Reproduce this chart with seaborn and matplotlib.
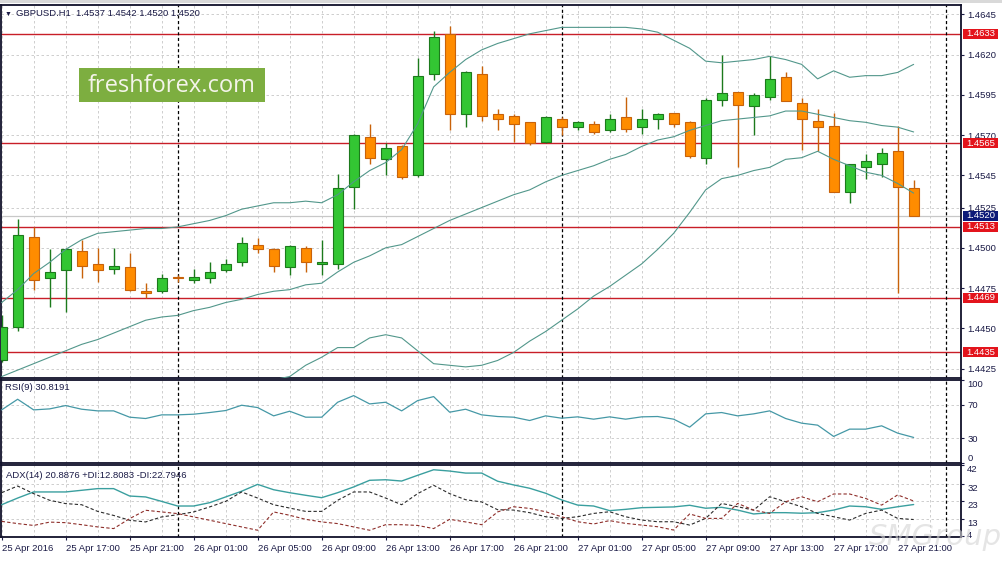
import numpy as np
import pandas as pd
import matplotlib
matplotlib.use("Agg")
import matplotlib.pyplot as plt
import matplotlib.transforms as mtransforms
from matplotlib.patches import Rectangle
import seaborn as sns

sns.set_theme(style="white")
plt.rcParams["font.family"] = ["Liberation Sans", "DejaVu Sans"]

# ---------------- data ----------------
time_labels = ["25 Apr 2016", "25 Apr 17:00", "25 Apr 21:00", "26 Apr 01:00",
               "26 Apr 05:00", "26 Apr 09:00", "26 Apr 13:00", "26 Apr 17:00",
               "26 Apr 21:00", "27 Apr 01:00", "27 Apr 05:00", "27 Apr 09:00",
               "27 Apr 13:00", "27 Apr 17:00", "27 Apr 21:00"]

opens = [1.4430, 1.4451, 1.4507, 1.4481, 1.4486, 1.4498, 1.4490, 1.4487, 1.4488, 1.4473,
         1.4473, 1.4482, 1.4480, 1.4481, 1.4486, 1.4491, 1.4502, 1.4499, 1.4488, 1.4500,
         1.4490, 1.4490, 1.4538, 1.4569, 1.4555, 1.4563, 1.4545, 1.4608, 1.4633, 1.4583,
         1.4608, 1.4583, 1.4582, 1.4578, 1.4566, 1.4580, 1.4575, 1.4577, 1.4573, 1.4581,
         1.4575, 1.4580, 1.4584, 1.4578, 1.4556, 1.4592, 1.4597, 1.4588, 1.4594, 1.4606,
         1.4590, 1.4579, 1.4576, 1.4535, 1.4550, 1.4552, 1.4560, 1.4537]
highs = [1.4458, 1.4518, 1.4513, 1.4499, 1.4500, 1.4505, 1.4500, 1.4500, 1.4497, 1.4478,
         1.4484, 1.4483, 1.4487, 1.4491, 1.4493, 1.4507, 1.4506, 1.4500, 1.4502, 1.4501,
         1.4505, 1.4546, 1.4571, 1.4577, 1.4565, 1.4564, 1.4618, 1.4635, 1.4638, 1.4610,
         1.4613, 1.4586, 1.4583, 1.4578, 1.4582, 1.4581, 1.4579, 1.4579, 1.4583, 1.4594,
         1.4586, 1.4584, 1.4584, 1.4579, 1.4593, 1.4620, 1.4597, 1.4596, 1.4619, 1.4609,
         1.4593, 1.4586, 1.4584, 1.4552, 1.4558, 1.4562, 1.4576, 1.4542]
lows = [1.4429, 1.4448, 1.4474, 1.4463, 1.4460, 1.4481, 1.4479, 1.4484, 1.4473, 1.4469,
        1.4472, 1.4479, 1.4478, 1.4478, 1.4485, 1.4489, 1.4497, 1.4485, 1.4483, 1.4485,
        1.4483, 1.4487, 1.4524, 1.4552, 1.4545, 1.4543, 1.4544, 1.4604, 1.4573, 1.4575,
        1.4579, 1.4573, 1.4566, 1.4564, 1.4565, 1.4570, 1.4573, 1.4571, 1.4572, 1.4572,
        1.4571, 1.4574, 1.4575, 1.4556, 1.4552, 1.4588, 1.4550, 1.4570, 1.4592, 1.4591,
        1.4561, 1.4560, 1.4535, 1.4528, 1.4543, 1.4544, 1.4472, 1.4520]
closes = [1.4451, 1.4508, 1.4480, 1.4485, 1.4499, 1.4489, 1.4486, 1.4489, 1.4474, 1.4472,
          1.4481, 1.4481, 1.4482, 1.4485, 1.4490, 1.4503, 1.4499, 1.4489, 1.4501, 1.4491,
          1.4491, 1.4537, 1.4570, 1.4556, 1.4562, 1.4544, 1.4607, 1.4631, 1.4583, 1.4609,
          1.4582, 1.4580, 1.4577, 1.4565, 1.4581, 1.4575, 1.4578, 1.4572, 1.4580, 1.4574,
          1.4580, 1.4583, 1.4577, 1.4557, 1.4592, 1.4596, 1.4589, 1.4595, 1.4605, 1.4591,
          1.4580, 1.4575, 1.4535, 1.4552, 1.4554, 1.4559, 1.4538, 1.4520]

bb_upper = [1.4466, 1.4474, 1.4484, 1.4491, 1.4499, 1.4505, 1.4509, 1.4510, 1.4511, 1.4512,
            1.4512, 1.4513, 1.4515, 1.4517, 1.4520, 1.4524, 1.4526, 1.4528, 1.4528, 1.4529,
            1.4528, 1.4533, 1.4541, 1.4548, 1.4553, 1.4561, 1.4577, 1.4600, 1.4609, 1.4617,
            1.4623, 1.4627, 1.4630, 1.4633, 1.4635, 1.4637, 1.4637, 1.4637, 1.4637, 1.4637,
            1.4636, 1.4634, 1.4629, 1.4624, 1.4616, 1.4615, 1.4616, 1.4617, 1.4619, 1.4617,
            1.4614, 1.4605, 1.4610, 1.4606, 1.4607, 1.4607, 1.4609, 1.4614]
bb_middle = [1.4420, 1.4424, 1.4428, 1.4432, 1.4436, 1.4440, 1.4443, 1.4447, 1.4451, 1.4455,
             1.4457, 1.4458, 1.4461, 1.4463, 1.4466, 1.4468, 1.4471, 1.4473, 1.4474, 1.4477,
             1.4478, 1.4485, 1.4491, 1.4495, 1.4500, 1.4502, 1.4507, 1.4512, 1.4517, 1.4521,
             1.4525, 1.4529, 1.4533, 1.4536, 1.4541, 1.4545, 1.4548, 1.4551, 1.4555, 1.4558,
             1.4563, 1.4567, 1.4569, 1.4573, 1.4576, 1.4579, 1.4580, 1.4581, 1.4582, 1.4585,
             1.4585, 1.4583, 1.4581, 1.4579, 1.4578, 1.4576, 1.4575, 1.4572]
bb_lower = [1.4373, 1.4374, 1.4371, 1.4373, 1.4373, 1.4374, 1.4378, 1.4384, 1.4390, 1.4397,
            1.4402, 1.4404, 1.4406, 1.4409, 1.4411, 1.4413, 1.4415, 1.4418, 1.4420, 1.4427,
            1.4432, 1.4438, 1.4438, 1.4444, 1.4446, 1.4444, 1.4436, 1.4428, 1.4427, 1.4426,
            1.4427, 1.4430, 1.4435, 1.4442, 1.4448, 1.4455, 1.4462, 1.4470, 1.4476, 1.4483,
            1.4490, 1.4499, 1.4509, 1.4522, 1.4536, 1.4543, 1.4545, 1.4548, 1.4550, 1.4555,
            1.4556, 1.4560, 1.4555, 1.4551, 1.4547, 1.4545, 1.4540, 1.4534]

levels = [1.4633, 1.4565, 1.4513, 1.4469, 1.4435]
bid_price = 1.4520
price_ticks = [1.4645, 1.4620, 1.4595, 1.4570, 1.4545, 1.4525, 1.4500, 1.4475, 1.4450, 1.4425]

rsi = [64.0, 76.8, 64.0, 65.2, 69.2, 64.8, 62.8, 62.8, 55.2, 53.6,
       58.0, 58.0, 58.8, 60.8, 63.2, 69.6, 66.8, 56.8, 62.4, 55.2,
       55.2, 73.2, 81.2, 71.2, 73.2, 62.8, 75.2, 80.0, 61.2, 64.8,
       58.0, 56.0, 55.2, 51.2, 56.8, 54.0, 55.6, 52.8, 55.6, 52.8,
       55.6, 56.0, 52.8, 43.2, 59.2, 60.8, 56.8, 59.2, 62.8, 53.6,
       48.0, 45.6, 32.0, 40.8, 40.8, 44.8, 36.0, 30.8]
rsi_ticks = [0, 30, 70, 100]

adx = [20.8, 24.4, 27.7, 27.7, 27.7, 28.6, 29.5, 29.5, 25.5, 25.0,
       22.6, 20.1, 20.1, 21.9, 25.0, 28.1, 31.8, 28.9, 27.3, 25.9,
       24.6, 27.3, 30.4, 34.0, 34.3, 33.6, 36.7, 39.7, 39.0, 37.9,
       37.9, 33.5, 31.5, 29.7, 27.0, 23.4, 20.6, 20.1, 17.6, 18.3,
       19.2, 19.4, 19.6, 20.5, 18.9, 19.4, 17.9, 15.8, 16.5, 16.5,
       16.2, 16.5, 17.9, 20.1, 19.7, 18.3, 19.7, 20.9]
plus_di = [27.3, 30.9, 26.8, 23.2, 21.4, 20.8, 17.2, 15.0, 12.4, 11.5,
           14.2, 15.4, 16.9, 19.6, 22.6, 27.7, 24.4, 20.8, 19.0, 17.2,
           17.2, 23.2, 27.7, 27.7, 24.4, 20.8, 26.8, 31.3, 26.8, 23.5,
           22.3, 18.1, 17.9, 16.5, 14.3, 13.4, 14.3, 16.1, 17.0, 14.3,
           12.5, 11.6, 11.6, 9.8, 13.4, 21.5, 19.7, 17.9, 25.1, 22.4,
           19.7, 16.1, 14.3, 12.5, 16.1, 17.9, 13.4, 12.8]
minus_di = [11.8, 10.6, 9.6, 11.4, 11.1, 10.0, 8.8, 7.9, 13.3, 17.8,
            16.9, 16.0, 14.2, 12.4, 10.6, 8.8, 7.0, 16.9, 15.1, 12.9,
            11.5, 10.6, 8.8, 7.0, 10.0, 10.0, 9.6, 7.9, 12.9, 11.5,
            10.0, 16.9, 19.7, 18.8, 17.0, 14.3, 11.6, 10.4, 12.2, 10.7,
            9.8, 8.9, 7.1, 15.8, 13.4, 13.4, 21.5, 17.9, 16.1, 22.4,
            25.1, 22.4, 26.6, 26.6, 24.2, 20.6, 26.1, 22.8]
adx_ticks = [4, 13, 23, 32, 42]

header_text = "GBPUSD.H1  1.4537 1.4542 1.4520 1.4520"
rsi_text = "RSI(9) 30.8191"
adx_text = "ADX(14) 20.8876 +DI:12.8083 -DI:22.7946"

# ---------------- layout ----------------
W, H = 1003, 561
fig = plt.figure(figsize=(W / 100, H / 100), dpi=100)
fig.patch.set_facecolor("white")

def px_axes(x0, y0, x1, y1):
    return fig.add_axes([x0 / W, 1 - y1 / H, (x1 - x0) / W, (y1 - y0) / H])

ax = px_axes(1, 5, 961, 378)
ax_rsi = px_axes(1, 380, 961, 463)
ax_adx = px_axes(1, 465, 961, 537)

idx = np.arange(len(opens))
XLIM = (-0.04, 59.96)
TXT = "#1a1a46"
FS = 6.8
GRID = "#c6c6c6"
grid_ls = (0, (3, 3))
sep_x = [11, 35, 59]

for a in (ax, ax_rsi, ax_adx):
    a.set_facecolor("white")
    a.set_xlim(*XLIM)
    for s in a.spines.values():
        s.set_visible(True)
        s.set_color("#10102a")
        s.set_linewidth(1.3)
    for gx in range(0, 60, 2):
        a.axvline(gx, color=GRID, lw=0.6, ls=grid_ls, zorder=0.8)
    for sx in sep_x:
        a.axvline(sx, color="#000000", lw=0.9, ls=(0, (2.5, 2)), zorder=1.9)
    a.yaxis.tick_right()
    a.tick_params(axis="y", which="major", right=True, left=False, direction="out",
                  length=2, width=0.8, pad=2.5, labelsize=FS, colors=TXT)

# ---------------- main price panel ----------------
ax.set_ylim(1.44191, 1.46509)
ax.set_yticks(price_ticks)
ax.set_yticklabels([f"{p:.4f}" for p in price_ticks])
ax.set_xticks([])
for p in price_ticks:
    ax.axhline(p, color=GRID, lw=0.6, ls=grid_ls, zorder=0.8)
for lv in levels:
    ax.axhline(lv, color="#c81e28", lw=1.0, zorder=1.8)
ax.axhline(bid_price, color="#c8c8c8", lw=0.9, zorder=1.7)

o = np.array(opens); c = np.array(closes); hi = np.array(highs); lo = np.array(lows)
bull = c > o
fill = np.where(bull, "#33c633", "#ff8c00")
edge = np.where(bull, "#1c7a1c", "#c8620a")
ax.vlines(idx, lo, hi, colors=edge, lw=1.0, zorder=2.2)
ax.bar(idx, np.maximum(np.abs(c - o), 0.00003), bottom=np.minimum(o, c), width=0.625,
       color=fill, edgecolor=edge, linewidth=0.8, zorder=3)

bb = pd.DataFrame({"i": idx, "upper": bb_upper, "middle": bb_middle, "lower": bb_lower})
for col in ("upper", "middle", "lower"):
    sns.lineplot(data=bb, x="i", y=col, ax=ax, color="#52978b", linewidth=0.8,
                 legend=False, zorder=4)
ax.set_xlim(*XLIM)
ax.set_ylim(1.44191, 1.46509)
ax.set_xlabel(""); ax.set_ylabel("")

blend = mtransforms.blended_transform_factory(ax.transAxes, ax.transData)
tag_items = [(lv, "#e3141c") for lv in levels] + [(bid_price, "#0d1a78")]
for lv, colr in tag_items:
    ax.add_patch(Rectangle((1.0021, lv - 0.00031), 0.0364, 0.00062, transform=blend,
                           facecolor=colr, edgecolor="none", clip_on=False, zorder=6))
    ax.text(1.0058, lv, f"{lv:.4f}", transform=blend, color="white", fontsize=FS,
            ha="left", va="center", clip_on=False, zorder=7)

# ---------------- RSI panel ----------------
rsi_df = pd.DataFrame({"i": idx, "rsi": rsi})
sns.lineplot(data=rsi_df, x="i", y="rsi", ax=ax_rsi, color="#4598a6", linewidth=0.9,
             legend=False, zorder=4)
ax_rsi.set_xlim(*XLIM)
ax_rsi.set_ylim(0, 100)
ax_rsi.set_xlabel(""); ax_rsi.set_ylabel("")
ax_rsi.set_xticks([])
for lv in (70, 30):
    ax_rsi.axhline(lv, color=GRID, lw=0.6, ls=grid_ls, zorder=0.8)
ax_rsi.set_yticks(rsi_ticks)
ax_rsi.set_yticklabels([str(v) for v in rsi_ticks])
for t, v in zip(ax_rsi.yaxis.get_major_ticks(), rsi_ticks):
    if v == 100:
        t.label2.set_va("top")
    elif v == 0:
        t.label2.set_va("bottom")

# ---------------- ADX panel ----------------
adx_df = pd.DataFrame({"i": idx, "adx": adx, "pdi": plus_di, "mdi": minus_di})
sns.lineplot(data=adx_df, x="i", y="adx", ax=ax_adx, color="#3a9f9f", linewidth=1.0,
             legend=False, zorder=4)
sns.lineplot(data=adx_df, x="i", y="pdi", ax=ax_adx, color="#2b2b2b", linewidth=0.8,
             legend=False, zorder=4)
ax_adx.lines[-1].set_linestyle((0, (3, 2)))
sns.lineplot(data=adx_df, x="i", y="mdi", ax=ax_adx, color="#8e2e2a", linewidth=0.8,
             legend=False, zorder=4)
ax_adx.lines[-1].set_linestyle((0, (3, 2)))
ax_adx.set_xlim(*XLIM)
ax_adx.set_ylim(3.35, 42.27)
ax_adx.set_xlabel(""); ax_adx.set_ylabel("")
for lv in (32, 23, 13):
    ax_adx.axhline(lv, color=GRID, lw=0.6, ls=grid_ls, zorder=0.8)
ax_adx.set_yticks(adx_ticks)
ax_adx.set_yticklabels([str(v) for v in adx_ticks])
for t, v in zip(ax_adx.yaxis.get_major_ticks(), adx_ticks):
    t.label2.set_va("center" if v == 4 else "top")

label_pos = list(range(0, 57, 4))
ax_adx.set_xticks(label_pos)
ax_adx.set_xticklabels(time_labels, ha="left")
ax_adx.tick_params(axis="x", bottom=True, direction="out", length=2.2, width=0.8,
                   pad=2.5, labelsize=FS, colors=TXT)

# ---------------- texts & decorations ----------------
fig.add_artist(Rectangle((0, 1 - 3 / H), 1, 3 / H, transform=fig.transFigure,
                         facecolor="#d9d9d9", edgecolor="none"))
fig.text(5 / W, 1 - 14 / H, "\u25BC", fontsize=5, color=TXT, va="center", ha="left")
fig.text(16 / W, 1 - 13.5 / H, header_text, fontsize=FS, color=TXT, va="center", ha="left")
fig.text(5 / W, 1 - 388 / H, rsi_text, fontsize=FS, color=TXT, va="center", ha="left")
fig.text(6 / W, 1 - 475 / H, adx_text, fontsize=FS, color=TXT, va="center", ha="left")

fig.add_artist(Rectangle((79 / W, 1 - 102 / H), 186 / W, 34 / H, transform=fig.transFigure,
                         facecolor="#7dae40", edgecolor="none", zorder=5))
fig.text(172 / W, 1 - 86 / H, "freshforex.com", fontsize=17, color="#f4f4ea",
         family=["Open Sans", "DejaVu Sans"], ha="center", va="center", zorder=6)

fig.text(935 / W, 1 - 537 / H, "SMGroup", fontsize=21, color="#d4d4d4", alpha=0.6,
         style="italic", family=["DejaVu Sans"], ha="center", va="center", zorder=6)

fig.savefig("out.png", dpi=100, facecolor="white")
